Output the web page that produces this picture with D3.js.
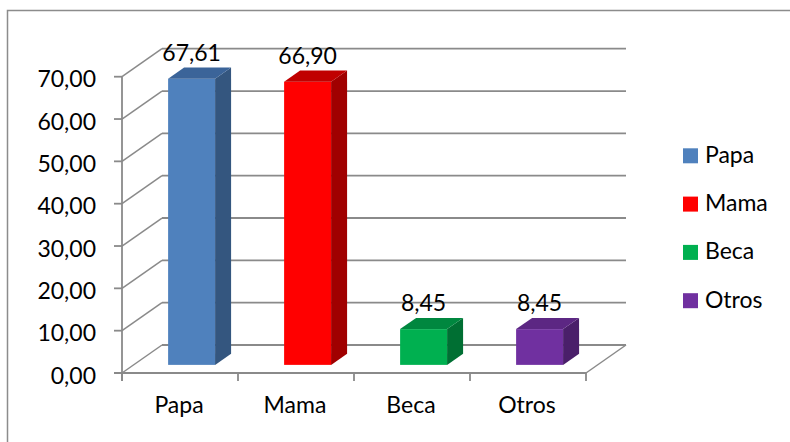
<!DOCTYPE html>
<html>
<head>
<meta charset="utf-8">
<script src="https://cdn.jsdelivr.net/npm/d3@7"></script>
<style>
  html, body { margin: 0; padding: 0; background: #fff; }
  svg { display: block; }
  text { font-family: Lato, "Open Sans", sans-serif; fill: #000; }
</style>
</head>
<body>
<svg id="chart" width="790" height="442"></svg>
<script>
// ---- data ----
const categories = ["Papa", "Mama", "Beca", "Otros"];
const values = [67.61, 66.90, 8.45, 8.45];
const valueLabels = ["67,61", "66,90", "8,45", "8,45"];
const yTicks = [0, 10, 20, 30, 40, 50, 60, 70];
const frontColors = ["#4F81BD", "#FF0000", "#00B050", "#7030A0"];
const topColors = ["#3B6499", "#C00000", "#00873F", "#5C2783"];
const sideColors = ["#34567F", "#A00000", "#006F33", "#4A1F6A"];

const svg = d3.select("#chart");
const FS = 23;
const fmt = v => d3.format(".2f")(v).replace(".", ",");

// frame
svg.append("rect").attr("x", 7.5).attr("y", 10.5).attr("width", 820).attr("height", 460)
  .attr("fill", "#fff").attr("stroke", "#8c8c8c").attr("stroke-width", 1.5);

// scales (front plane)
const x = d3.scaleBand().domain(categories).range([122, 586]).padding(0);
const y = d3.scaleLinear().domain([0, 70]).range([373, 76.7]);
const depth = { dx: 40, dy: -28 };   // full floor depth
const z0 = 0.29, z1 = 0.69;          // bar depth range
const barFrac = 0.405;               // bar width as fraction of band

const gridColor = "#8a8a8a";
const g = svg.append("g");

// back wall gridlines + side wall diagonals
yTicks.forEach(t => {
  const fy = y(t);
  g.append("line").attr("x1", 122 + depth.dx).attr("x2", 586 + depth.dx)
    .attr("y1", fy + depth.dy).attr("y2", fy + depth.dy)
    .attr("stroke", gridColor).attr("stroke-width", 1.8);
  g.append("line").attr("x1", 122).attr("y1", fy)
    .attr("x2", 122 + depth.dx).attr("y2", fy + depth.dy)
    .attr("stroke", gridColor).attr("stroke-width", 1.5);
});

// floor right edge
g.append("line").attr("x1", 586).attr("y1", y(0))
  .attr("x2", 586 + depth.dx).attr("y2", y(0) + depth.dy)
  .attr("stroke", gridColor).attr("stroke-width", 1.5);

// front axes
g.append("line").attr("x1", 122).attr("x2", 122).attr("y1", y(70)).attr("y2", y(0) + 8)
  .attr("stroke", gridColor).attr("stroke-width", 1.8);
g.append("line").attr("x1", 114).attr("x2", 586).attr("y1", y(0)).attr("y2", y(0))
  .attr("stroke", gridColor).attr("stroke-width", 1.8);

// y ticks and labels
yTicks.forEach(t => {
  g.append("line").attr("x1", 114).attr("x2", 122).attr("y1", y(t)).attr("y2", y(t))
    .attr("stroke", gridColor).attr("stroke-width", 1.8);
  g.append("text").attr("x", 96).attr("y", y(t) + 10.5)
    .attr("text-anchor", "end").attr("font-size", FS).text(fmt(t));
});

// category ticks and labels
const catEdges = categories.map(c => x(c)).concat([x(categories[categories.length - 1]) + x.bandwidth()]);
catEdges.forEach(cx => {
  g.append("line").attr("x1", cx).attr("x2", cx).attr("y1", y(0)).attr("y2", y(0) + 8)
    .attr("stroke", gridColor).attr("stroke-width", 1.8);
});
categories.forEach(c => {
  g.append("text").attr("x", x(c) + x.bandwidth() / 2 - 1).attr("y", y(0) + 40)
    .attr("text-anchor", "middle").attr("font-size", FS).text(c);
});

// bars
const bars = svg.append("g");
categories.forEach((c, i) => {
  const bw = x.bandwidth() * barFrac;
  const fx0 = x(c) + (x.bandwidth() - bw) / 2 + depth.dx * z0;
  const fx1 = fx0 + bw;
  const oy = depth.dy * z0;
  const fyTop = y(values[i]) + oy;
  const fyBot = y(0) + oy;
  const bdx = depth.dx * (z1 - z0), bdy = depth.dy * (z1 - z0);
  // front
  bars.append("rect").attr("x", fx0).attr("y", fyTop).attr("width", bw).attr("height", fyBot - fyTop)
    .attr("fill", frontColors[i]);
  // side
  bars.append("path").attr("d", `M${fx1},${fyTop} L${fx1 + bdx},${fyTop + bdy} L${fx1 + bdx},${fyBot + bdy} L${fx1},${fyBot} Z`)
    .attr("fill", sideColors[i]);
  // top
  bars.append("path").attr("d", `M${fx0},${fyTop} L${fx0 + bdx},${fyTop + bdy} L${fx1 + bdx},${fyTop + bdy} L${fx1},${fyTop} Z`)
    .attr("fill", topColors[i]);
  // value label
  bars.append("text").attr("x", (fx0 + fx1) / 2).attr("y", fyTop + bdy - 6.5)
    .attr("text-anchor", "middle").attr("font-size", FS).text(valueLabels[i]);
});

// legend
const leg = svg.append("g");
categories.forEach((c, i) => {
  const ly = 148.3 + i * 48.3;
  leg.append("rect").attr("x", 683).attr("y", ly).attr("width", 15).attr("height", 15)
    .attr("fill", frontColors[i]);
  leg.append("text").attr("x", 705).attr("y", ly + 14.5).attr("font-size", FS).text(c);
});
</script>
</body>
</html>
